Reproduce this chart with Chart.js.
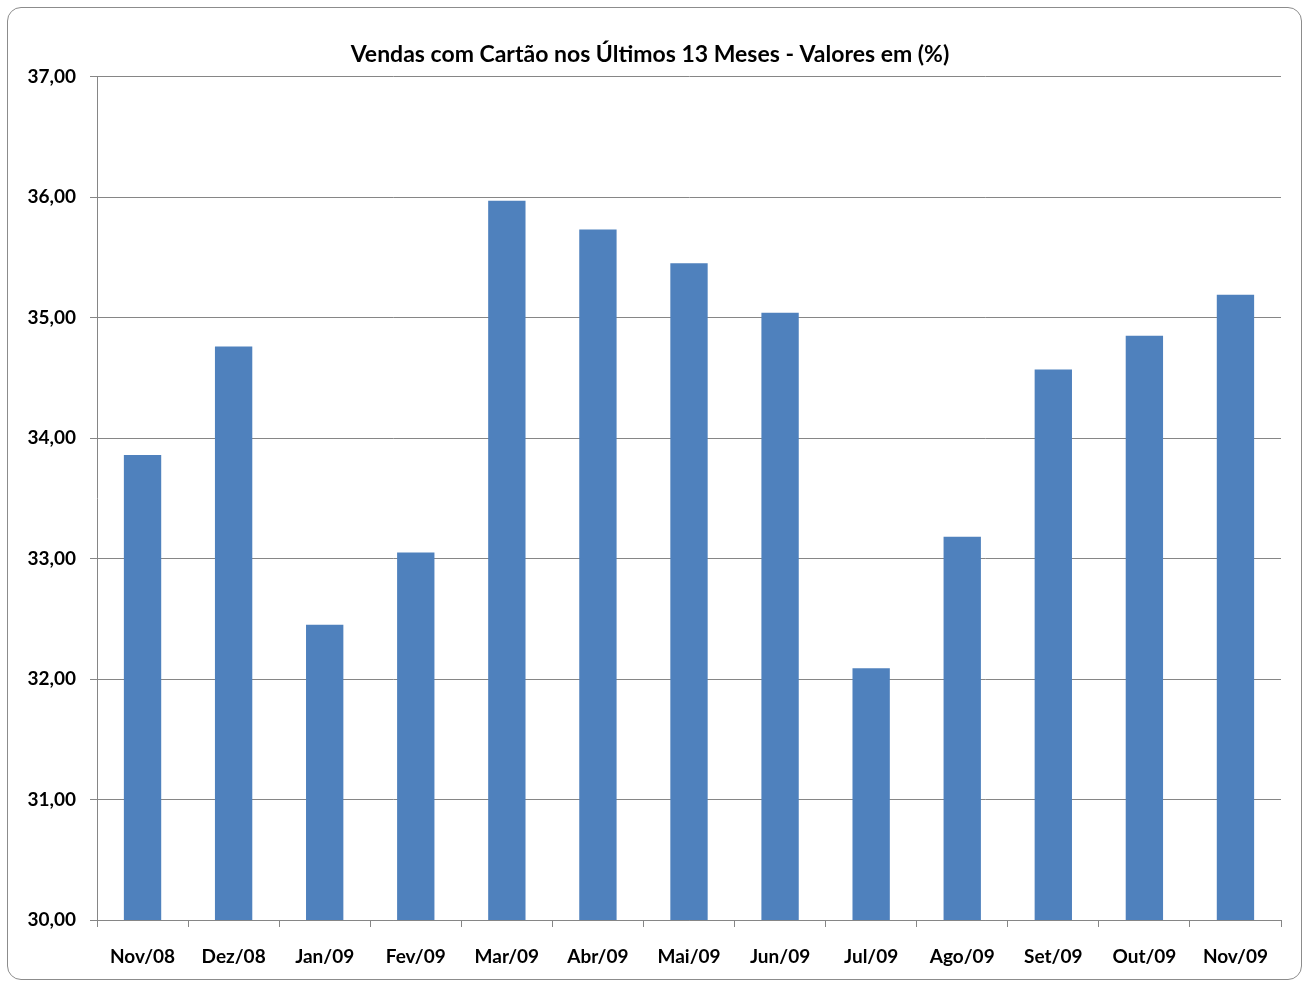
<!DOCTYPE html>
<html>
<head>
<meta charset="utf-8">
<script src="https://cdn.jsdelivr.net/npm/chart.js"></script>
<style>
  html, body { margin: 0; padding: 0; background: #fff; }
  .frame {
    position: absolute; left: 7px; top: 7px; width: 1293px; height: 971px;
    border: 1px solid #8c8c8c; border-radius: 14px;
  }
  #wrap { position: absolute; left: 0; top: 0; width: 1309px; height: 982px; }
</style>
</head>
<body>
<div class="frame"></div>
<div id="wrap"><canvas id="vendas"></canvas></div>
<script>
const meses = ["Nov/08", "Dez/08", "Jan/09", "Fev/09", "Mar/09", "Abr/09", "Mai/09",
               "Jun/09", "Jul/09", "Ago/09", "Set/09", "Out/09", "Nov/09"];
const percentuais = [33.86, 34.76, 32.45, 33.05, 35.97, 35.73, 35.45,
                     35.04, 32.09, 33.18, 34.57, 34.85, 35.19];
const eixoMin = 30;
const eixoMax = 37;

const fonte = "Lato, 'Open Sans', sans-serif";

new Chart(document.getElementById("vendas"), {
  type: "bar",
  data: {
    labels: meses,
    datasets: [{
      label: "Vendas com Cartão",
      data: percentuais,
      backgroundColor: "#4f81bd",
      borderWidth: 0,
      barPercentage: 0.41,
      categoryPercentage: 1,
    }],
  },
  options: {
    responsive: true,
    maintainAspectRatio: false,
    animation: false,
    layout: { padding: { top: 10, right: 28, bottom: 0, left: 19 } },
    plugins: {
      legend: { display: false },
      tooltip: { enabled: false },
      title: {
        display: true,
        text: "Vendas com Cartão nos Últimos 13 Meses - Valores em (%)",
        color: "#000",
        font: { family: fonte, size: 23, weight: "bold" },
        padding: { top: 31, bottom: 8 },
      },
    },
    scales: {
      x: {
        offset: true,
        grid: {
          offset: true,
          drawOnChartArea: false,
          drawTicks: true,
          tickLength: 7,
          color: "#868686",
        },
        border: { color: "#868686", width: 1 },
        ticks: {
          color: "#000",
          padding: 18,
          maxRotation: 0,
          font: { family: fonte, size: 19, weight: "bold" },
        },
        afterFit: (s) => { s.height = 62; },
      },
      y: {
        min: eixoMin,
        max: eixoMax,
        grid: { color: "#868686", tickLength: 7, drawTicks: true },
        border: { color: "#868686", width: 1 },
        ticks: {
          stepSize: 1,
          color: "#000",
          padding: 14,
          font: { family: fonte, size: 19, weight: "bold" },
          callback: (v) => v.toFixed(2).replace(".", ","),
        },
        afterFit: (s) => { s.width = 78; },
      },
    },
  },
});
</script>
</body>
</html>
